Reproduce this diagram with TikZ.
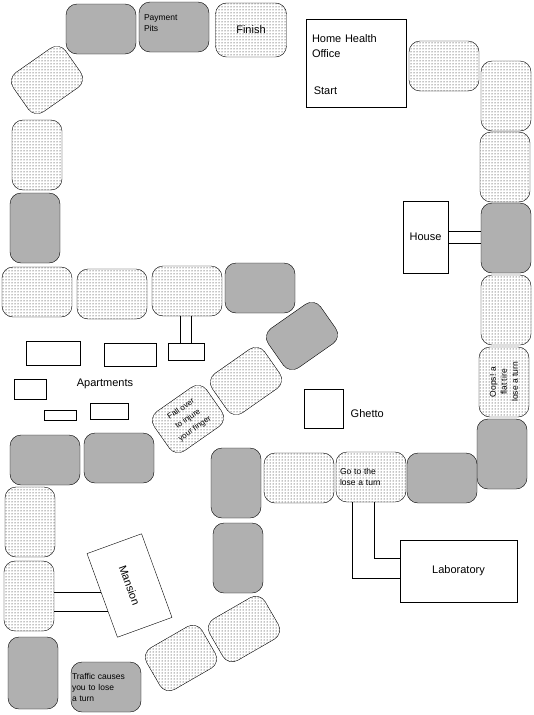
\documentclass[tikz,border=0pt]{standalone}
\usepackage{fontspec}
\setmainfont{Liberation Sans}
\usetikzlibrary{patterns,calc}

\begin{document}
\begin{tikzpicture}[
  x=1pt, y=-1pt,
  font=\fontsize{11}{14}\selectfont,
  tile/.style={
    draw,
    rounded corners=11pt,
    minimum width=70pt,
    minimum height=50pt,
    inner sep=2pt,
    align=left
  },
  lighttile/.style={
    tile,
    pattern=dots,
    pattern color=black
  },
  darktile/.style={
    tile,
    fill=gray!62
  },
  tall/.style={
    minimum width=50pt,
    minimum height=70pt
  },
  tilt/.style={
    rotate=35,
    minimum width=64pt,
    minimum height=48pt
  },
  place/.style={
    draw,
    inner sep=0pt,
    align=center
  },
  tiny/.style={
    font=\fontsize{8.5}{11}\selectfont
  }
]
\useasboundingbox (0,0) rectangle (533,715);

%---------------------------------
% Right side, from the start
%---------------------------------
\node[place, minimum width=100pt, minimum height=88pt, text width=88pt, align=left,
  font=\fontsize{11}{15}\selectfont]
  (office) at (356,63) {\mbox{}\\[-3pt]Home Health\\Office\\[22pt]\,Start};

\node[lighttile]       (s1) at (444,66)  {};
\node[lighttile, tall] (s2) at (506,96)  {};
\node[lighttile, tall] (s3) at (505,167) {};
\node[darktile, tall]  (s4) at (506,238) {};
\node[lighttile, tall] (s5) at (506,310) {};
\node[lighttile, tiny, rotate=90, align=center] (s6) at (504,382)
  {Oops! a\\flat tire\\lose a turn};
\node[darktile, tall]  (s7) at (502,454) {};

%---------------------------------
% Middle row and bottom
%---------------------------------
\node[darktile]        (s8)  at (442,478) {};
\node[lighttile, tiny, text width=62pt] (s9) at (371,477) {Go to the\\lose a turn};
\node[lighttile]       (s10) at (299,478) {};
\node[darktile, tall]  (s11) at (236,483) {};
\node[darktile, tall]  (s12) at (238,558) {};
\node[lighttile, rotate=30, minimum width=64pt, minimum height=48pt] (s13) at (244,629) {};
\node[lighttile, rotate=30, minimum width=64pt, minimum height=48pt] (s14) at (181,658) {};
\node[darktile, tiny, text width=68pt, inner sep=1pt] (s15) at (106,687)
  {Traffic causes\\you to lose\\a turn};

%---------------------------------
% Left column
%---------------------------------
\node[darktile, minimum width=50pt, minimum height=72pt] (s16) at (33,673) {};
\node[lighttile, tall] (s17) at (29,596) {};
\node[lighttile, tall] (s18) at (30,522) {};
\node[darktile]        (s19) at (45,460) {};
\node[darktile]        (s20) at (119,458) {};

%---------------------------------
% Diagonal back up
%---------------------------------
\node[lighttile, tilt, align=center, font=\fontsize{8}{12}\selectfont] (s21) at (188,419)
  {Fall over\\to injure\\your finger};
\node[lighttile, tilt] (s22) at (246,381) {};
\node[darktile, tilt]  (s23) at (302,336) {};
\node[darktile]        (s24) at (260,288) {};
\node[lighttile]       (s25) at (187,291) {};
\node[lighttile]       (s26) at (112,294) {};
\node[lighttile]       (s27) at (37,292)  {};
\node[darktile, tall]  (s28) at (35,228)  {};
\node[lighttile, tall] (s29) at (37,155)  {};
\node[lighttile, tilt] (s30) at (47,80)   {};
\node[darktile]        (s31) at (101,29)  {};
\node[darktile, tiny, text width=60pt] (s32) at (174,27)
  {Payment\\Pits\\[-3pt]\mbox{}};
\node[lighttile, minimum width=71pt, minimum height=54pt] (s33) at (251,30) {Finish};

%---------------------------------
% Places
%---------------------------------
\node[place, minimum width=45pt, minimum height=72pt] (house) at (425.5,237) {House};
\node[place, minimum width=39pt, minimum height=39pt] (ghetto) at (323.5,408.5) {};
\node[right=4pt] (ghettolabel) at (ghetto.east |- 0,414) {Ghetto};
\node[place, minimum width=117pt, minimum height=62pt] (lab) at (458.5,571) {Laboratory};
\node[place, rotate=-70, minimum width=89pt, minimum height=58pt] (mansion) at (129.5,585.5) {Mansion};

\node[place, minimum width=36pt, minimum height=17pt] (stem) at (186,351.5) {};

\node[place, minimum width=54pt, minimum height=24pt] (ap1) at (53,353)    {};
\node[place, minimum width=52pt, minimum height=23pt] (ap2) at (130,354.5) {};
\node[place, minimum width=32pt, minimum height=20pt] (ap3) at (30,389)    {};
\node[place, minimum width=32pt, minimum height=10pt] (ap4) at (60,415)    {};
\node[place, minimum width=38pt, minimum height=16pt] (ap5) at (109,411)   {};
\node (aplabel) at (105,384) {Apartments};

%---------------------------------
% Connections
%---------------------------------
\draw ([yshift=6pt]house.east) -- ([yshift=6pt]house.east -| s4.west);
\draw ([yshift=-6pt]house.east) -- ([yshift=-6pt]house.east -| s4.west);

\draw ([xshift=-19pt]s9.south) |- ([yshift=-7pt]lab.west);
\draw ([xshift=3pt]s9.south) |- ([yshift=13pt]lab.west);

\coordinate (m1) at ($(mansion.south west)!0.46!(mansion.south east)$);
\coordinate (m2) at ($(mansion.south west)!0.69!(mansion.south east)$);
\draw (m1 -| s17.east) -- (m1);
\draw (m2 -| s17.east) -- (m2);

\draw ([xshift=-7pt]s25.south) -- ([xshift=-7pt]s25.south |- stem.north);
\draw ([xshift=4pt]s25.south) -- ([xshift=4pt]s25.south |- stem.north);

\end{tikzpicture}
\end{document}
